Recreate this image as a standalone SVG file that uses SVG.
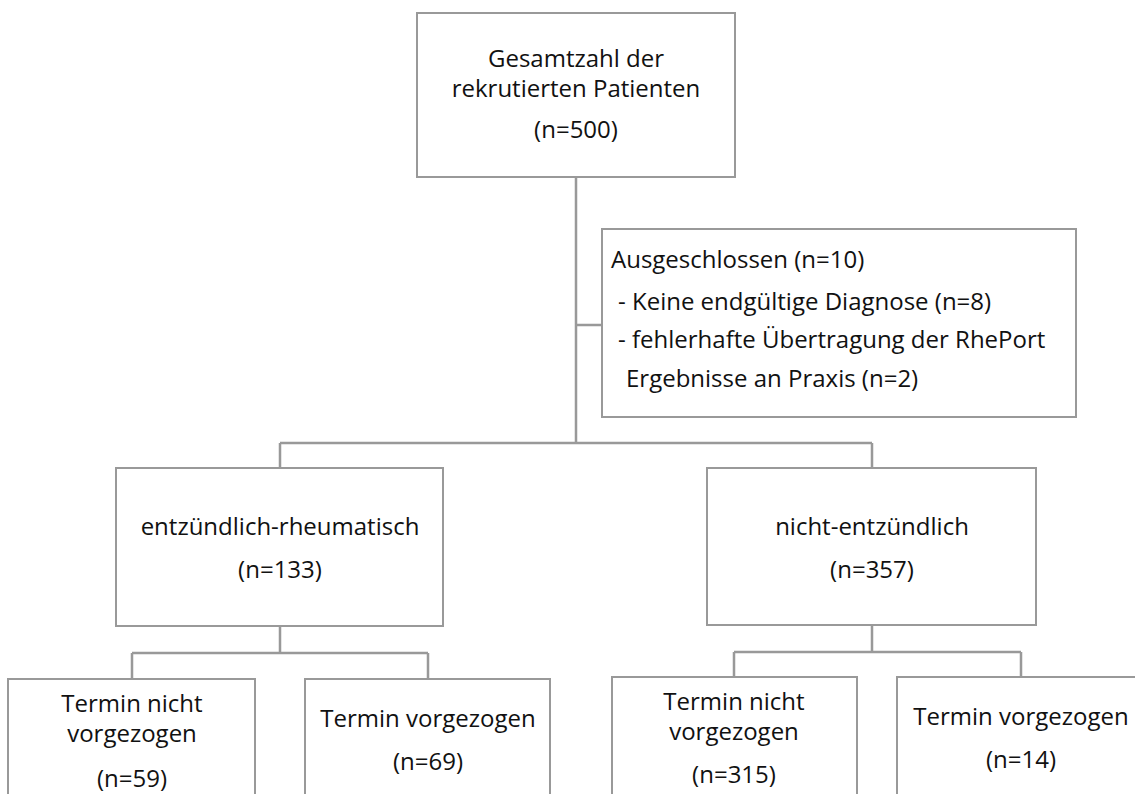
<svg xmlns="http://www.w3.org/2000/svg" width="1135" height="794" viewBox="0 0 1135 794">
<style>
.box{fill:#fff;stroke:#999;stroke-width:2}
.ln{fill:none;stroke:#999;stroke-width:2.5}
text{font-family:"Open Sans","Liberation Sans",sans-serif;font-size:24px;fill:#111}
.c{text-anchor:middle}
</style>
<rect width="1135" height="794" fill="#fff"/>
<g id="connectors">
<path class="ln" d="M576,177 V443 M576,325 H602 M280,443 H872 M280,443 V468 M872,443 V468 M280,626 V653 M132,653 H428 M132,653 V679 M428,653 V679 M872,625 V652 M734,652 H1021 M734,652 V677 M1021,652 V677"/>
</g>
<g id="total">
<rect class="box" x="417" y="13" width="318" height="164"/>
<text class="c" x="576" y="67">Gesamtzahl der</text>
<text class="c" x="576" y="97">rekrutierten Patienten</text>
<text class="c" x="576" y="138">(n=500)</text>
</g>
<g id="excluded">
<rect class="box" x="602" y="229" width="474" height="188"/>
<text x="611" y="268">Ausgeschlossen (n=10)</text>
<text x="618" y="310">- Keine endgültige Diagnose (n=8)</text>
<text x="618" y="348">- fehlerhafte Übertragung der RhePort</text>
<text x="626" y="387">Ergebnisse an Praxis (n=2)</text>
</g>
<g id="inflammatory">
<rect class="box" x="116" y="468" width="327" height="158"/>
<text class="c" x="280" y="535">entzündlich-rheumatisch</text>
<text class="c" x="280" y="578">(n=133)</text>
</g>
<g id="noninflammatory">
<rect class="box" x="707" y="468" width="329" height="157"/>
<text class="c" x="872" y="535">nicht-entzündlich</text>
<text class="c" x="872" y="578">(n=357)</text>
</g>
<g id="infl-not-advanced">
<rect class="box" x="8" y="679" width="247" height="140"/>
<text class="c" x="132" y="712">Termin nicht</text>
<text class="c" x="132" y="742">vorgezogen</text>
<text class="c" x="132" y="787">(n=59)</text>
</g>
<g id="infl-advanced">
<rect class="box" x="305" y="679" width="245" height="140"/>
<text class="c" x="428" y="727">Termin vorgezogen</text>
<text class="c" x="428" y="770">(n=69)</text>
</g>
<g id="noninfl-not-advanced">
<rect class="box" x="612" y="677" width="245" height="140"/>
<text class="c" x="734" y="710">Termin nicht</text>
<text class="c" x="734" y="740">vorgezogen</text>
<text class="c" x="734" y="783">(n=315)</text>
</g>
<g id="noninfl-advanced">
<rect class="box" x="897" y="677" width="260" height="140"/>
<text class="c" x="1021" y="725">Termin vorgezogen</text>
<text class="c" x="1021" y="768">(n=14)</text>
</g>
</svg>
